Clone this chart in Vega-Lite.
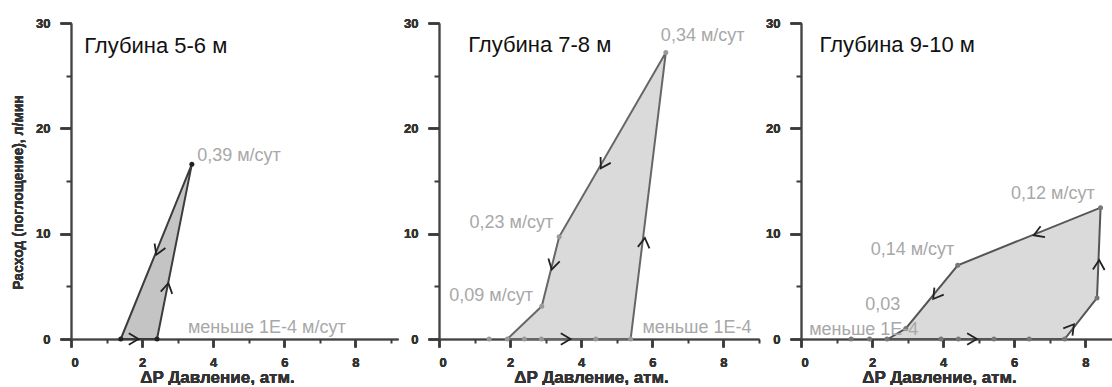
{
  "$schema": "https://vega.github.io/schema/vega-lite/v6.json",
  "padding": {"left": 11, "top": 17, "right": 0, "bottom": 0},
  "background": "white",
  "spacing": 5,
  "config": {
    "view": {"stroke": null},
    "font": "Liberation Sans",
    "axis": {
      "grid": false,
      "domainColor": "#444444",
      "domainWidth": 1.5,
      "labelFont": "Liberation Sans",
      "labelFontWeight": "bold",
      "labelFontSize": 13,
      "labelColor": "#333333",
      "titleFont": "Liberation Sans",
      "titleFontWeight": "bold",
      "titleColor": "#333333"
    }
  },
  "datasets": {
    "poly": [
      {"p": 1, "seq": 1, "x": 1.4, "y": 0},
      {"p": 1, "seq": 2, "x": 2.42, "y": 0},
      {"p": 1, "seq": 3, "x": 3.4, "y": 16.6},
      {"p": 1, "seq": 4, "x": 1.4, "y": 0},
      {"p": 2, "seq": 1, "x": 1.92, "y": 0},
      {"p": 2, "seq": 2, "x": 5.39, "y": 0},
      {"p": 2, "seq": 3, "x": 6.38, "y": 27.2},
      {"p": 2, "seq": 4, "x": 3.38, "y": 9.7},
      {"p": 2, "seq": 5, "x": 2.89, "y": 3.1},
      {"p": 2, "seq": 6, "x": 1.92, "y": 0},
      {"p": 3, "seq": 1, "x": 2.45, "y": 0},
      {"p": 3, "seq": 2, "x": 7.42, "y": 0},
      {"p": 3, "seq": 3, "x": 8.33, "y": 3.9},
      {"p": 3, "seq": 4, "x": 8.43, "y": 12.47},
      {"p": 3, "seq": 5, "x": 4.41, "y": 7.0},
      {"p": 3, "seq": 6, "x": 2.95, "y": 1.0},
      {"p": 3, "seq": 7, "x": 2.45, "y": 0}
    ],
    "dots": [
      {"p": 1, "x": 1.4, "y": 0},
      {"p": 1, "x": 2.42, "y": 0},
      {"p": 1, "x": 3.4, "y": 16.6},
      {"p": 2, "x": 1.41, "y": 0},
      {"p": 2, "x": 1.92, "y": 0},
      {"p": 2, "x": 2.4, "y": 0},
      {"p": 2, "x": 2.88, "y": 0},
      {"p": 2, "x": 4.41, "y": 0},
      {"p": 2, "x": 5.39, "y": 0},
      {"p": 2, "x": 6.38, "y": 27.2},
      {"p": 2, "x": 3.38, "y": 9.7},
      {"p": 2, "x": 2.89, "y": 3.1},
      {"p": 3, "x": 1.41, "y": 0},
      {"p": 3, "x": 1.93, "y": 0},
      {"p": 3, "x": 2.42, "y": 0},
      {"p": 3, "x": 3.94, "y": 0},
      {"p": 3, "x": 4.43, "y": 0},
      {"p": 3, "x": 5.43, "y": 0},
      {"p": 3, "x": 6.42, "y": 0},
      {"p": 3, "x": 7.42, "y": 0},
      {"p": 3, "x": 8.33, "y": 3.9},
      {"p": 3, "x": 8.43, "y": 12.47},
      {"p": 3, "x": 4.41, "y": 7.0},
      {"p": 3, "x": 2.95, "y": 1.0}
    ],
    "arrows": [
      {"p": 1, "x": 1.9, "y": 0, "angle": 0},
      {"p": 1, "x": 2.74, "y": 5.3, "angle": 281.3},
      {"p": 1, "x": 2.4, "y": 8.0, "angle": 112.2},
      {"p": 2, "x": 3.7, "y": 0, "angle": 0},
      {"p": 2, "x": 5.79, "y": 9.6, "angle": 277.1},
      {"p": 2, "x": 4.55, "y": 16.2, "angle": 120},
      {"p": 2, "x": 3.17, "y": 6.6, "angle": 104},
      {"p": 3, "x": 4.95, "y": 0, "angle": 0},
      {"p": 3, "x": 7.68, "y": 1.4, "angle": 308.2},
      {"p": 3, "x": 8.39, "y": 7.5, "angle": 272.2},
      {"p": 3, "x": 6.55, "y": 9.85, "angle": 158},
      {"p": 3, "x": 3.72, "y": 3.8, "angle": 127}
    ],
    "labels": [
      {"p": 1, "x": 3.55, "y": 17.4, "text": "0,39 м/сут"},
      {"p": 1, "x": 3.29, "y": 1.0, "text": "меньше 1E-4 м/сут"},
      {"p": 2, "x": 6.24, "y": 28.8, "text": "0,34 м/сут"},
      {"p": 2, "x": 0.86, "y": 11.0, "text": "0,23 м/сут"},
      {"p": 2, "x": 0.29, "y": 4.1, "text": "0,09 м/сут"},
      {"p": 2, "x": 5.72, "y": 1.05, "text": "меньше 1E-4"},
      {"p": 3, "x": 5.91, "y": 13.8, "text": "0,12 м/сут"},
      {"p": 3, "x": 1.96, "y": 8.45, "text": "0,14 м/сут"},
      {"p": 3, "x": 1.81, "y": 3.2, "text": "0,03"},
      {"p": 3, "x": 0.23, "y": 0.85, "text": "меньше 1E-4"}
    ],
    "titles": [
      {"p": 1, "x": 0.37, "y": 27.8, "text": "Глубина 5-6 м"},
      {"p": 2, "x": 0.82, "y": 27.9, "text": "Глубина 7-8 м"},
      {"p": 3, "x": 0.52, "y": 27.9, "text": "Глубина 9-10 м"}
    ]
  },
  "hconcat": [
    {
      "width": 327,
      "height": 316,
      "resolve": {"axis": {"x": "independent", "y": "independent"}},
      "encoding": {
        "x": {"field": "x", "type": "quantitative", "scale": {"domain": [0, 9.2], "nice": false},
          "axis": {"orient": "bottom", "values": [0,2,4,6,8], "ticks": true, "tickSize": 8, "tickColor": "#3a3a3a", "tickWidth": 2,
            "labelPadding": 9, "title": "ΔP Давление, атм.", "titleFontSize": 17, "titlePadding": 0, "titleX": 146}},
        "y": {"field": "y", "type": "quantitative", "scale": {"domain": [0, 30], "nice": false},
          "axis": {"orient": "left", "values": [0,10,20,30], "ticks": true, "tickSize": 11, "tickColor": "#3a3a3a", "tickWidth": 2,
            "labelPadding": 10, "title": "Расход (поглощение), л/мин", "titleFontSize": 14, "titlePadding": 10, "titleY": 169}}
      },
      "layer": [
        {"data": {"name": "poly"}, "transform": [{"filter": "datum.p === 1"}],
          "mark": {"type": "line", "fill": "#c4c4c4", "stroke": "#3c3c3c", "strokeWidth": 2},
          "encoding": {"order": {"field": "seq", "type": "quantitative"}}},
        {"data": {"name": "dots"}, "transform": [{"filter": "datum.p === 1"}],
          "mark": {"type": "circle", "color": "#222222", "size": 25, "opacity": 1}, "encoding": {}},
        {"data": {"name": "arrows"}, "transform": [{"filter": "datum.p === 1"}],
          "mark": {"type": "point", "shape": "M-1,-0.6L0,0L-1,0.6", "filled": false, "stroke": "#222222", "strokeWidth": 1.8, "size": 380, "opacity": 1},
          "encoding": {"angle": {"field": "angle", "type": "quantitative", "scale": {"domain": [0, 360], "range": [0, 360]}, "legend": null}}},
        {"data": {"name": "labels"}, "transform": [{"filter": "datum.p === 1"}],
          "mark": {"type": "text", "align": "left", "baseline": "middle", "fontSize": 18, "color": "#a8a8a8", "font": "Liberation Sans"},
          "encoding": {"text": {"field": "text"}}},
        {"data": {"name": "titles"}, "transform": [{"filter": "datum.p === 1"}],
          "mark": {"type": "text", "align": "left", "baseline": "middle", "fontSize": 22, "color": "#111111", "font": "Liberation Sans"},
          "encoding": {
            "text": {"field": "text"},
            "x": {"field": "x", "type": "quantitative", "scale": {"domain": [0, 9.2], "nice": false},
              "axis": {"orient": "bottom", "values": [1,3,5,7,9], "ticks": true, "tickSize": 4, "tickColor": "#3a3a3a", "tickWidth": 2, "labels": false, "domain": false, "title": null}},
            "y": {"field": "y", "type": "quantitative", "scale": {"domain": [0, 30], "nice": false},
              "axis": {"orient": "left", "values": [5,15,25], "ticks": true, "tickSize": 5, "tickColor": "#3a3a3a", "tickWidth": 2, "labels": false, "domain": false, "title": null}}
          }}
      ]
    },
    {
      "width": 320,
      "height": 316,
      "resolve": {"axis": {"x": "independent", "y": "independent"}},
      "encoding": {
        "x": {"field": "x", "type": "quantitative", "scale": {"domain": [0, 9], "nice": false},
          "axis": {"orient": "bottom", "values": [0,2,4,6,8], "ticks": true, "tickSize": 8, "tickColor": "#3a3a3a", "tickWidth": 2,
            "labelPadding": 9, "title": "ΔP Давление, атм.", "titleFontSize": 17, "titlePadding": 0, "titleX": 152}},
        "y": {"field": "y", "type": "quantitative", "scale": {"domain": [0, 30], "nice": false},
          "axis": {"orient": "left", "values": [0,10,20,30], "ticks": true, "tickSize": 11, "tickColor": "#3a3a3a", "tickWidth": 2,
            "labelPadding": 10, "title": null}}
      },
      "layer": [
        {"data": {"name": "poly"}, "transform": [{"filter": "datum.p === 2"}],
          "mark": {"type": "line", "fill": "#dadada", "stroke": "#666666", "strokeWidth": 2},
          "encoding": {"order": {"field": "seq", "type": "quantitative"}}},
        {"data": {"name": "dots"}, "transform": [{"filter": "datum.p === 2"}],
          "mark": {"type": "circle", "color": "#999999", "size": 25, "opacity": 1}, "encoding": {}},
        {"data": {"name": "arrows"}, "transform": [{"filter": "datum.p === 2"}],
          "mark": {"type": "point", "shape": "M-1,-0.6L0,0L-1,0.6", "filled": false, "stroke": "#222222", "strokeWidth": 1.8, "size": 380, "opacity": 1},
          "encoding": {"angle": {"field": "angle", "type": "quantitative", "scale": {"domain": [0, 360], "range": [0, 360]}, "legend": null}}},
        {"data": {"name": "labels"}, "transform": [{"filter": "datum.p === 2"}],
          "mark": {"type": "text", "align": "left", "baseline": "middle", "fontSize": 18, "color": "#a8a8a8", "font": "Liberation Sans"},
          "encoding": {"text": {"field": "text"}}},
        {"data": {"name": "titles"}, "transform": [{"filter": "datum.p === 2"}],
          "mark": {"type": "text", "align": "left", "baseline": "middle", "fontSize": 22, "color": "#111111", "font": "Liberation Sans"},
          "encoding": {
            "text": {"field": "text"},
            "x": {"field": "x", "type": "quantitative", "scale": {"domain": [0, 9], "nice": false},
              "axis": {"orient": "bottom", "values": [1,3,5,7,9], "ticks": true, "tickSize": 4, "tickColor": "#3a3a3a", "tickWidth": 2, "labels": false, "domain": false, "title": null}},
            "y": {"field": "y", "type": "quantitative", "scale": {"domain": [0, 30], "nice": false},
              "axis": {"orient": "left", "values": [5,15,25], "ticks": true, "tickSize": 5, "tickColor": "#3a3a3a", "tickWidth": 2, "labels": false, "domain": false, "title": null}}
          }}
      ]
    },
    {
      "width": 312,
      "height": 316,
      "resolve": {"axis": {"x": "independent", "y": "independent"}},
      "encoding": {
        "x": {"field": "x", "type": "quantitative", "scale": {"domain": [0, 8.78], "nice": false},
          "axis": {"orient": "bottom", "values": [0,2,4,6,8], "ticks": true, "tickSize": 8, "tickColor": "#3a3a3a", "tickWidth": 2,
            "labelPadding": 9, "title": "ΔP Давление, атм.", "titleFontSize": 17, "titlePadding": 0, "titleX": 138}},
        "y": {"field": "y", "type": "quantitative", "scale": {"domain": [0, 30], "nice": false},
          "axis": {"orient": "left", "values": [0,10,20,30], "ticks": true, "tickSize": 11, "tickColor": "#3a3a3a", "tickWidth": 2,
            "labelPadding": 10, "title": null}}
      },
      "layer": [
        {"data": {"name": "poly"}, "transform": [{"filter": "datum.p === 3"}],
          "mark": {"type": "line", "fill": "#dadada", "stroke": "#555555", "strokeWidth": 2},
          "encoding": {"order": {"field": "seq", "type": "quantitative"}}},
        {"data": {"name": "dots"}, "transform": [{"filter": "datum.p === 3"}],
          "mark": {"type": "circle", "color": "#777777", "size": 25, "opacity": 1}, "encoding": {}},
        {"data": {"name": "arrows"}, "transform": [{"filter": "datum.p === 3"}],
          "mark": {"type": "point", "shape": "M-1,-0.6L0,0L-1,0.6", "filled": false, "stroke": "#222222", "strokeWidth": 1.8, "size": 380, "opacity": 1},
          "encoding": {"angle": {"field": "angle", "type": "quantitative", "scale": {"domain": [0, 360], "range": [0, 360]}, "legend": null}}},
        {"data": {"name": "labels"}, "transform": [{"filter": "datum.p === 3"}],
          "mark": {"type": "text", "align": "left", "baseline": "middle", "fontSize": 18, "color": "#a8a8a8", "font": "Liberation Sans"},
          "encoding": {"text": {"field": "text"}}},
        {"data": {"name": "titles"}, "transform": [{"filter": "datum.p === 3"}],
          "mark": {"type": "text", "align": "left", "baseline": "middle", "fontSize": 22, "color": "#111111", "font": "Liberation Sans"},
          "encoding": {
            "text": {"field": "text"},
            "x": {"field": "x", "type": "quantitative", "scale": {"domain": [0, 8.78], "nice": false},
              "axis": {"orient": "bottom", "values": [1,3,5,7], "ticks": true, "tickSize": 4, "tickColor": "#3a3a3a", "tickWidth": 2, "labels": false, "domain": false, "title": null}},
            "y": {"field": "y", "type": "quantitative", "scale": {"domain": [0, 30], "nice": false},
              "axis": {"orient": "left", "values": [5,15,25], "ticks": true, "tickSize": 5, "tickColor": "#3a3a3a", "tickWidth": 2, "labels": false, "domain": false, "title": null}}
          }}
      ]
    }
  ]
}
